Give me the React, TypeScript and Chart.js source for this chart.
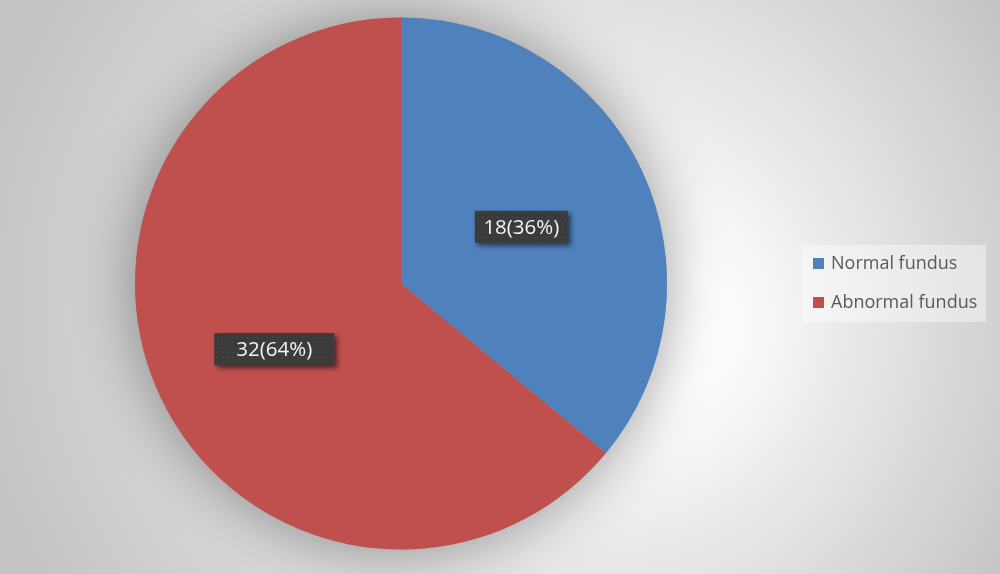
import { useEffect, useRef } from "react";
import { Chart, registerables } from "chart.js";

Chart.register(...registerables);

const categories = ["Normal fundus", "Abnormal fundus"];
const counts = [18, 32];
const percents = [36, 64];
const sliceColors = ["#4F81BD", "#C0504D"];

// label placement along the slice's mid angle (fraction of radius), small nudges and box widths
const labelRadius = [0.5, 0.535];
const labelNudge = [
  [0, 0],
  [2, 5],
];
const labelBoxWidth = [93, 120];

function makeDotPattern(ctx: CanvasRenderingContext2D) {
  const c = document.createElement("canvas");
  c.width = 5;
  c.height = 5;
  const p = c.getContext("2d")!;
  p.fillStyle = "#3b3b3b";
  p.fillRect(0, 0, 5, 5);
  p.fillStyle = "#4d4d4d";
  p.fillRect(2, 2, 1, 1);
  return ctx.createPattern(c, "repeat");
}

const backgroundPlugin = {
  id: "bgGradient",
  beforeDraw(chart: Chart) {
    const { ctx, width, height } = chart;
    const g = ctx.createRadialGradient(680, 330, 0, 520, 300, 560);
    g.addColorStop(0, "#ffffff");
    g.addColorStop(0.12, "#fdfdfd");
    g.addColorStop(0.5, "#e4e4e4");
    g.addColorStop(1, "#c4c4c4");
    ctx.save();
    ctx.fillStyle = g;
    ctx.fillRect(0, 0, width, height);
    ctx.restore();
  },
};

const pieShadowPlugin = {
  id: "pieShadow",
  beforeDatasetsDraw(chart: Chart) {
    const arc: any = chart.getDatasetMeta(0).data[0];
    if (!arc) return;
    const { ctx } = chart;
    ctx.save();
    ctx.shadowColor = "rgba(0,0,0,0.38)";
    ctx.shadowBlur = 60;
    ctx.fillStyle = "#999999";
    ctx.beginPath();
    ctx.arc(arc.x, arc.y, arc.outerRadius, 0, Math.PI * 2);
    ctx.fill();
    ctx.restore();
  },
};

const labelBoxPlugin = {
  id: "labelBoxes",
  afterDatasetsDraw(chart: Chart) {
    const { ctx } = chart;
    const pattern = makeDotPattern(ctx);
    chart.getDatasetMeta(0).data.forEach((el: any, i: number) => {
      const mid = (el.startAngle + el.endAngle) / 2;
      const r = el.outerRadius * labelRadius[i];
      const cx = el.x + Math.cos(mid) * r + labelNudge[i][0];
      const cy = el.y + Math.sin(mid) * r + labelNudge[i][1];
      const w = labelBoxWidth[i];
      const h = 32;
      ctx.save();
      ctx.shadowColor = "rgba(0,0,0,0.55)";
      ctx.shadowBlur = 5;
      ctx.shadowOffsetX = 3;
      ctx.shadowOffsetY = 3;
      ctx.fillStyle = pattern || "#3d3d3d";
      ctx.fillRect(cx - w / 2, cy - h / 2, w, h);
      ctx.restore();
      ctx.save();
      ctx.fillStyle = "#f4f4f4";
      ctx.font = "20.5px 'Open Sans'";
      ctx.textAlign = "center";
      ctx.textBaseline = "middle";
      ctx.fillText(`${counts[i]}(${percents[i]}%)`, cx, cy + 1);
      ctx.restore();
    });
  },
};

const legendPlugin = {
  id: "boxLegend",
  afterDraw(chart: Chart) {
    const { ctx } = chart;
    const labels = (chart.data.labels || []) as string[];
    const colors = chart.data.datasets[0].backgroundColor as string[];
    ctx.save();
    ctx.fillStyle = "rgba(255,255,255,0.4)";
    ctx.fillRect(802, 245, 184, 77);
    ctx.font = "18px 'Open Sans'";
    ctx.textBaseline = "middle";
    labels.forEach((label, i) => {
      const y = 264 + i * 39;
      ctx.fillStyle = colors[i];
      ctx.fillRect(813, y - 6, 11, 11);
      ctx.fillStyle = "#595959";
      ctx.fillText(label, 831, y);
    });
    ctx.restore();
  },
};

export default function App() {
  const canvasRef = useRef<HTMLCanvasElement>(null);
  const chartRef = useRef<Chart | null>(null);

  useEffect(() => {
    if (!canvasRef.current) return;
    if (chartRef.current) chartRef.current.destroy();

    chartRef.current = new Chart(canvasRef.current, {
      type: "pie",
      data: {
        labels: categories,
        datasets: [
          {
            data: counts,
            backgroundColor: sliceColors,
            borderWidth: 0,
          },
        ],
      },
      options: {
        responsive: true,
        maintainAspectRatio: false,
        animation: false,
        layout: { padding: { top: 17, bottom: 24, left: 135, right: 333 } },
        plugins: {
          legend: { display: false },
          tooltip: { enabled: false },
        },
      },
      plugins: [backgroundPlugin, pieShadowPlugin, labelBoxPlugin, legendPlugin],
    });

    return () => {
      chartRef.current?.destroy();
      chartRef.current = null;
    };
  }, []);

  return (
    <div style={{ position: "fixed", left: 0, top: 0, width: 1000, height: 574 }}>
      <canvas ref={canvasRef} />
    </div>
  );
}
